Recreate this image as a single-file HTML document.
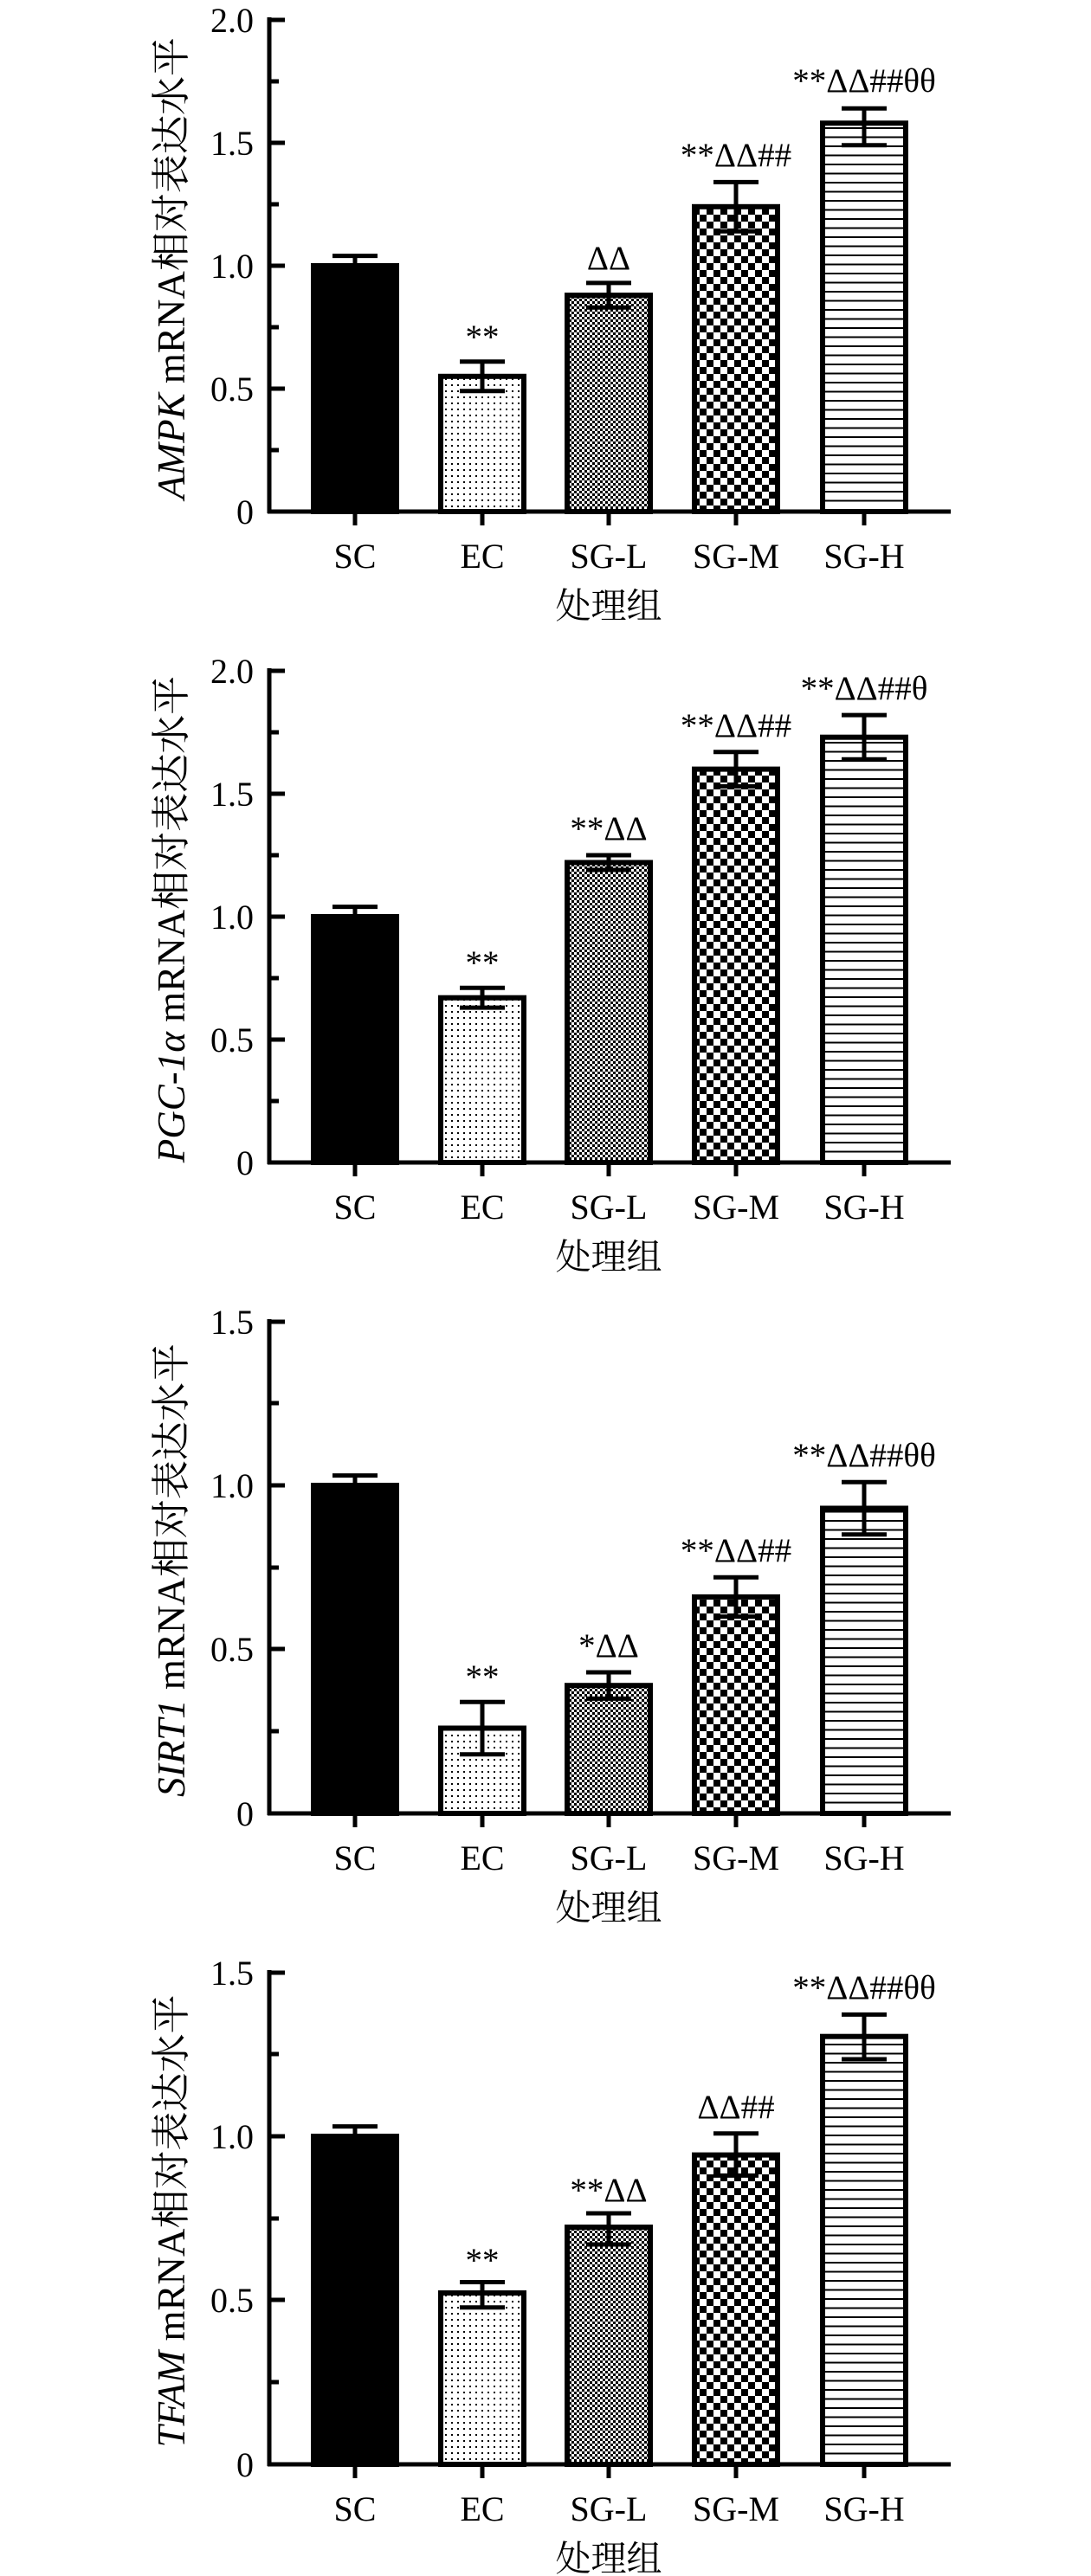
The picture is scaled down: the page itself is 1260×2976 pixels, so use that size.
<!DOCTYPE html>
<html><head><meta charset="utf-8"><style>
html,body{margin:0;padding:0;background:#fff}
svg{display:block}
text{font-family:"Liberation Serif","Noto Serif CJK SC","Noto Sans CJK SC",serif;fill:#000}
</style></head><body>
<svg width="1260" height="2976" viewBox="0 0 1260 2976" xmlns="http://www.w3.org/2000/svg">
<defs>
<pattern id="dots" width="7" height="7" patternUnits="userSpaceOnUse"><rect width="7" height="7" fill="#fff"/><rect x="3" y="3" width="2" height="2" fill="#000"/></pattern>
<pattern id="fchk" width="6" height="6" patternUnits="userSpaceOnUse"><rect width="6" height="6" fill="#fff"/><rect width="3" height="3" fill="#000"/><rect x="3" y="3" width="3" height="3" fill="#000"/></pattern>
<pattern id="cchk" width="16" height="16" patternUnits="userSpaceOnUse"><rect width="16" height="16" fill="#fff"/><rect width="8" height="8" fill="#000"/><rect x="8" y="8" width="8" height="8" fill="#000"/></pattern>
<pattern id="hl" width="10" height="10.5" patternUnits="userSpaceOnUse"><rect width="10" height="10.5" fill="#fff"/><rect y="0" width="10" height="2" fill="#000"/></pattern>
</defs>

<!-- Panel 1 -->
<g>
<g stroke="#000" stroke-width="5" fill="none">
<line x1="311" y1="20" x2="311" y2="593"/><line x1="309" y1="591" x2="1098" y2="591"/>
<line x1="311" y1="23" x2="329" y2="23"/><line x1="311" y1="94" x2="322" y2="94"/><line x1="311" y1="165" x2="329" y2="165"/><line x1="311" y1="236" x2="322" y2="236"/><line x1="311" y1="307" x2="329" y2="307"/><line x1="311" y1="378" x2="322" y2="378"/><line x1="311" y1="449" x2="329" y2="449"/><line x1="311" y1="520" x2="322" y2="520"/>
<line x1="410" y1="591" x2="410" y2="607"/><line x1="557" y1="591" x2="557" y2="607"/><line x1="703" y1="591" x2="703" y2="607"/><line x1="850" y1="591" x2="850" y2="607"/><line x1="998" y1="591" x2="998" y2="607"/>
</g>
<g font-size="40" text-anchor="end"><text x="293" y="37">2.0</text><text x="293" y="179">1.5</text><text x="293" y="321">1.0</text><text x="293" y="463">0.5</text><text x="293" y="605">0</text></g>
<g stroke="#000" stroke-width="6">
<rect x="362" y="307" width="96" height="284" fill="#000"/>
<rect x="509" y="434.8" width="96" height="156.2" fill="url(#dots)"/>
<rect x="655" y="341.1" width="96" height="249.9" fill="url(#fchk)"/>
<rect x="802" y="238.8" width="96" height="352.2" fill="url(#cchk)"/>
<rect x="950" y="142.3" width="96" height="448.7" fill="url(#hl)"/>
</g>
<g stroke="#000" stroke-width="5">
<line x1="410" y1="295.6" x2="410" y2="318"/><line x1="384" y1="295.6" x2="436" y2="295.6"/>
<line x1="557" y1="417.8" x2="557" y2="451.8"/><line x1="531" y1="417.8" x2="583" y2="417.8"/><line x1="531" y1="451.8" x2="583" y2="451.8"/>
<line x1="703" y1="326.9" x2="703" y2="355.3"/><line x1="677" y1="326.9" x2="729" y2="326.9"/><line x1="677" y1="355.3" x2="729" y2="355.3"/>
<line x1="850" y1="210.4" x2="850" y2="267.2"/><line x1="824" y1="210.4" x2="876" y2="210.4"/><line x1="824" y1="267.2" x2="876" y2="267.2"/>
<line x1="998" y1="125.2" x2="998" y2="167.8"/><line x1="972" y1="125.2" x2="1024" y2="125.2"/><line x1="972" y1="167.8" x2="1024" y2="167.8"/>
</g>
<g font-size="39" text-anchor="middle"><text x="557" y="402">**</text><text x="703" y="311">ΔΔ</text><text x="850" y="192">**ΔΔ##</text><text x="998" y="106">**ΔΔ##θθ</text></g>
<g font-size="40" text-anchor="middle"><text x="410" y="656">SC</text><text x="557" y="656">EC</text><text x="703" y="656">SG-L</text><text x="850" y="656">SG-M</text><text x="998" y="656">SG-H</text></g>
<text x="703" y="714" font-size="41" text-anchor="middle">处理组</text>
<text transform="translate(213,310) rotate(-90)" font-size="45" text-anchor="middle"><tspan font-style="italic">AMPK</tspan> mRNA相对表达水平</text>
</g>

<!-- Panel 2 -->
<g transform="translate(0,752)">
<g stroke="#000" stroke-width="5" fill="none">
<line x1="311" y1="20" x2="311" y2="593"/><line x1="309" y1="591" x2="1098" y2="591"/>
<line x1="311" y1="23" x2="329" y2="23"/><line x1="311" y1="94" x2="322" y2="94"/><line x1="311" y1="165" x2="329" y2="165"/><line x1="311" y1="236" x2="322" y2="236"/><line x1="311" y1="307" x2="329" y2="307"/><line x1="311" y1="378" x2="322" y2="378"/><line x1="311" y1="449" x2="329" y2="449"/><line x1="311" y1="520" x2="322" y2="520"/>
<line x1="410" y1="591" x2="410" y2="607"/><line x1="557" y1="591" x2="557" y2="607"/><line x1="703" y1="591" x2="703" y2="607"/><line x1="850" y1="591" x2="850" y2="607"/><line x1="998" y1="591" x2="998" y2="607"/>
</g>
<g font-size="40" text-anchor="end"><text x="293" y="37">2.0</text><text x="293" y="179">1.5</text><text x="293" y="321">1.0</text><text x="293" y="463">0.5</text><text x="293" y="605">0</text></g>
<g stroke="#000" stroke-width="6">
<rect x="362" y="307" width="96" height="284" fill="#000"/>
<rect x="509" y="400.7" width="96" height="190.3" fill="url(#dots)"/>
<rect x="655" y="244.5" width="96" height="346.5" fill="url(#fchk)"/>
<rect x="802" y="136.6" width="96" height="454.4" fill="url(#cchk)"/>
<rect x="950" y="99.7" width="96" height="491.3" fill="url(#hl)"/>
</g>
<g stroke="#000" stroke-width="5">
<line x1="410" y1="295.6" x2="410" y2="318"/><line x1="384" y1="295.6" x2="436" y2="295.6"/>
<line x1="557" y1="389.3" x2="557" y2="412.1"/><line x1="531" y1="389.3" x2="583" y2="389.3"/><line x1="531" y1="412.1" x2="583" y2="412.1"/>
<line x1="703" y1="236" x2="703" y2="253"/><line x1="677" y1="236" x2="729" y2="236"/><line x1="677" y1="253" x2="729" y2="253"/>
<line x1="850" y1="116.7" x2="850" y2="156.5"/><line x1="824" y1="116.7" x2="876" y2="116.7"/><line x1="824" y1="156.5" x2="876" y2="156.5"/>
<line x1="998" y1="74.1" x2="998" y2="125.3"/><line x1="972" y1="74.1" x2="1024" y2="74.1"/><line x1="972" y1="125.3" x2="1024" y2="125.3"/>
</g>
<g font-size="39" text-anchor="middle"><text x="557" y="373">**</text><text x="703" y="218">**ΔΔ</text><text x="850" y="99">**ΔΔ##</text><text x="998" y="56">**ΔΔ##θ</text></g>
<g font-size="40" text-anchor="middle"><text x="410" y="656">SC</text><text x="557" y="656">EC</text><text x="703" y="656">SG-L</text><text x="850" y="656">SG-M</text><text x="998" y="656">SG-H</text></g>
<text x="703" y="714" font-size="41" text-anchor="middle">处理组</text>
<text transform="translate(213,310) rotate(-90)" font-size="45" text-anchor="middle"><tspan font-style="italic">PGC-1α</tspan> mRNA相对表达水平</text>
</g>

<!-- Panel 3 -->
<g transform="translate(0,1504)">
<g stroke="#000" stroke-width="5" fill="none">
<line x1="311" y1="20" x2="311" y2="593"/><line x1="309" y1="591" x2="1098" y2="591"/>
<line x1="311" y1="23" x2="329" y2="23"/><line x1="311" y1="117" x2="322" y2="117"/><line x1="311" y1="212" x2="329" y2="212"/><line x1="311" y1="307" x2="322" y2="307"/><line x1="311" y1="401" x2="329" y2="401"/><line x1="311" y1="496" x2="322" y2="496"/>
<line x1="410" y1="591" x2="410" y2="607"/><line x1="557" y1="591" x2="557" y2="607"/><line x1="703" y1="591" x2="703" y2="607"/><line x1="850" y1="591" x2="850" y2="607"/><line x1="998" y1="591" x2="998" y2="607"/>
</g>
<g font-size="40" text-anchor="end"><text x="293" y="37">1.5</text><text x="293" y="226">1.0</text><text x="293" y="415">0.5</text><text x="293" y="605">0</text></g>
<g stroke="#000" stroke-width="6">
<rect x="362" y="212" width="96" height="379" fill="#000"/>
<rect x="509" y="492.5" width="96" height="98.5" fill="url(#dots)"/>
<rect x="655" y="443.2" width="96" height="147.8" fill="url(#fchk)"/>
<rect x="802" y="340.9" width="96" height="250.1" fill="url(#cchk)"/>
<rect x="950" y="238.5" width="96" height="352.5" fill="url(#hl)"/>
</g>
<g stroke="#000" stroke-width="5">
<line x1="410" y1="200.6" x2="410" y2="223"/><line x1="384" y1="200.6" x2="436" y2="200.6"/>
<line x1="557" y1="462.2" x2="557" y2="522.8"/><line x1="531" y1="462.2" x2="583" y2="462.2"/><line x1="531" y1="522.8" x2="583" y2="522.8"/>
<line x1="703" y1="428" x2="703" y2="458.4"/><line x1="677" y1="428" x2="729" y2="428"/><line x1="677" y1="458.4" x2="729" y2="458.4"/>
<line x1="850" y1="318.2" x2="850" y2="363.6"/><line x1="824" y1="318.2" x2="876" y2="318.2"/><line x1="824" y1="363.6" x2="876" y2="363.6"/>
<line x1="998" y1="208.2" x2="998" y2="268.8"/><line x1="972" y1="208.2" x2="1024" y2="208.2"/><line x1="972" y1="268.8" x2="1024" y2="268.8"/>
</g>
<g font-size="39" text-anchor="middle"><text x="557" y="446">**</text><text x="703" y="410">*ΔΔ</text><text x="850" y="300">**ΔΔ##</text><text x="998" y="190">**ΔΔ##θθ</text></g>
<g font-size="40" text-anchor="middle"><text x="410" y="656">SC</text><text x="557" y="656">EC</text><text x="703" y="656">SG-L</text><text x="850" y="656">SG-M</text><text x="998" y="656">SG-H</text></g>
<text x="703" y="714" font-size="41" text-anchor="middle">处理组</text>
<text transform="translate(213,310) rotate(-90)" font-size="45" text-anchor="middle"><tspan font-style="italic">SIRT1</tspan> mRNA相对表达水平</text>
</g>

<!-- Panel 4 -->
<g transform="translate(0,2256)">
<g stroke="#000" stroke-width="5" fill="none">
<line x1="311" y1="20" x2="311" y2="593"/><line x1="309" y1="591" x2="1098" y2="591"/>
<line x1="311" y1="23" x2="329" y2="23"/><line x1="311" y1="117" x2="322" y2="117"/><line x1="311" y1="212" x2="329" y2="212"/><line x1="311" y1="307" x2="322" y2="307"/><line x1="311" y1="401" x2="329" y2="401"/><line x1="311" y1="496" x2="322" y2="496"/>
<line x1="410" y1="591" x2="410" y2="607"/><line x1="557" y1="591" x2="557" y2="607"/><line x1="703" y1="591" x2="703" y2="607"/><line x1="850" y1="591" x2="850" y2="607"/><line x1="998" y1="591" x2="998" y2="607"/>
</g>
<g font-size="40" text-anchor="end"><text x="293" y="37">1.5</text><text x="293" y="226">1.0</text><text x="293" y="415">0.5</text><text x="293" y="605">0</text></g>
<g stroke="#000" stroke-width="6">
<rect x="362" y="212" width="96" height="379" fill="#000"/>
<rect x="509" y="393" width="96" height="198" fill="url(#dots)"/>
<rect x="655" y="317" width="96" height="274" fill="url(#fchk)"/>
<rect x="802" y="233.6" width="96" height="357.4" fill="url(#cchk)"/>
<rect x="950" y="96.7" width="96" height="494.3" fill="url(#hl)"/>
</g>
<g stroke="#000" stroke-width="5">
<line x1="410" y1="200.6" x2="410" y2="223"/><line x1="384" y1="200.6" x2="436" y2="200.6"/>
<line x1="557" y1="380.5" x2="557" y2="409.7"/><line x1="531" y1="380.5" x2="583" y2="380.5"/><line x1="531" y1="409.7" x2="583" y2="409.7"/>
<line x1="703" y1="301" x2="703" y2="337"/><line x1="677" y1="301" x2="729" y2="301"/><line x1="677" y1="337" x2="729" y2="337"/>
<line x1="850" y1="208.7" x2="850" y2="257.4"/><line x1="824" y1="208.7" x2="876" y2="208.7"/><line x1="824" y1="257.4" x2="876" y2="257.4"/>
<line x1="998" y1="71.4" x2="998" y2="123"/><line x1="972" y1="71.4" x2="1024" y2="71.4"/><line x1="972" y1="123" x2="1024" y2="123"/>
</g>
<g font-size="39" text-anchor="middle"><text x="557" y="368">**</text><text x="703" y="287">**ΔΔ</text><text x="850" y="191">ΔΔ##</text><text x="998" y="53">**ΔΔ##θθ</text></g>
<g font-size="40" text-anchor="middle"><text x="410" y="656">SC</text><text x="557" y="656">EC</text><text x="703" y="656">SG-L</text><text x="850" y="656">SG-M</text><text x="998" y="656">SG-H</text></g>
<text x="703" y="714" font-size="41" text-anchor="middle">处理组</text>
<text transform="translate(213,310) rotate(-90)" font-size="45" text-anchor="middle"><tspan font-style="italic">TFAM</tspan> mRNA相对表达水平</text>
</g>
</svg>
</body></html>
